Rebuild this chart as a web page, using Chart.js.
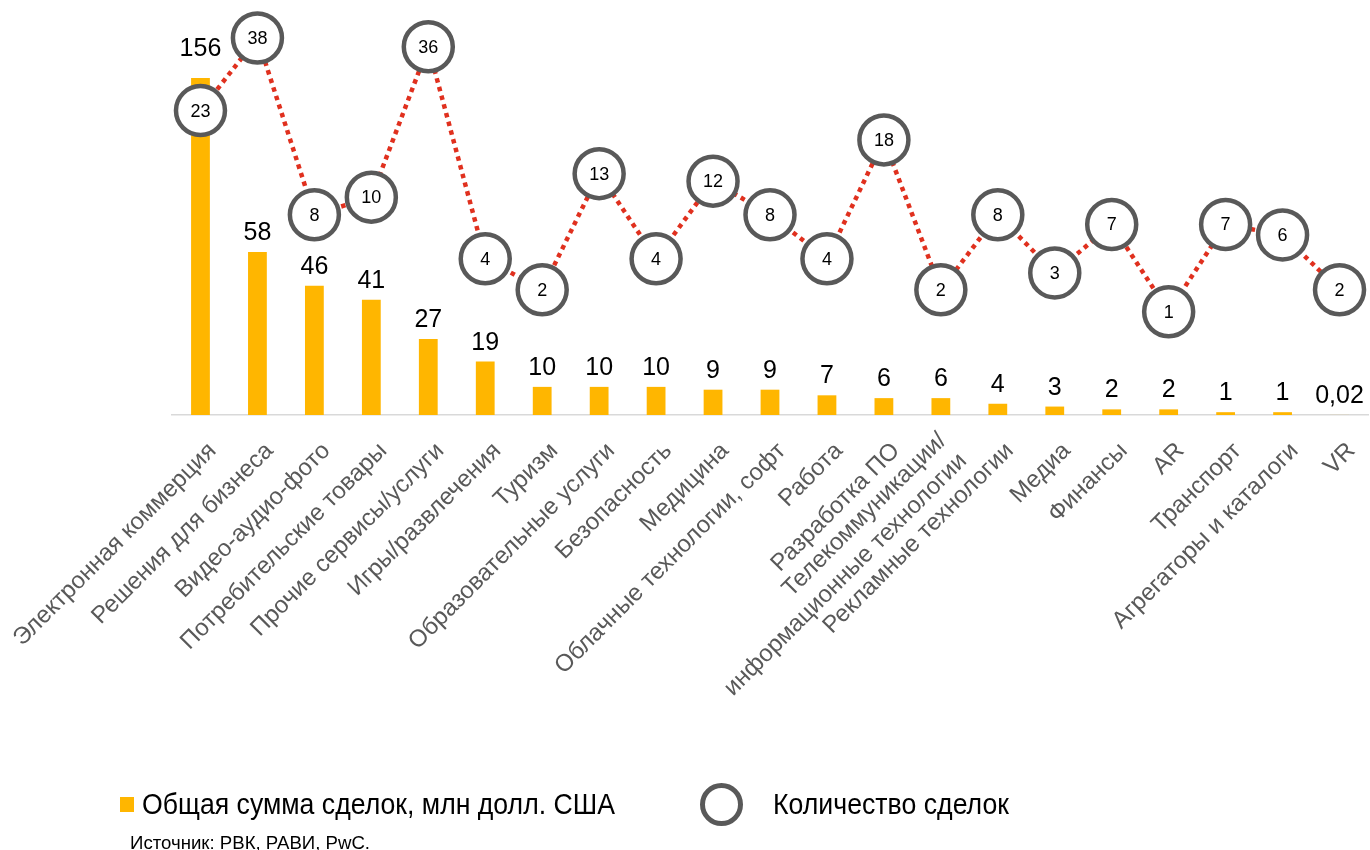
<!DOCTYPE html>
<html lang="ru">
<head>
<meta charset="utf-8">
<title>Сделки по отраслям</title>
<script src="https://cdn.jsdelivr.net/npm/chart.js@4.4.1/dist/chart.umd.min.js"></script>
<style>
  html, body { margin: 0; padding: 0; background: #fff; }
  #wrap { position: relative; width: 1370px; height: 850px; overflow: hidden; }
  #chart { position: absolute; left: 0; top: 0; }
  .lg { position: absolute; white-space: nowrap; font-family: "Liberation Sans", Arial, sans-serif;
        color: #000; transform-origin: 0 50%; line-height: 1; }
  #sq { position: absolute; left: 120px; top: 797px; width: 14px; height: 15px; background: #FFB600; }
  #ring { position: absolute; left: 700px; top: 783px; width: 43px; height: 43px; box-sizing: border-box;
          border: 5.5px solid #595959; border-radius: 50%; }
</style>
</head>
<body>
<div id="wrap">
  <canvas id="chart" width="1370" height="850"></canvas>
  <div id="sq"></div>
  <span class="lg" id="t1" style="left:142px; top:790px; font-size:29px;">Общая сумма сделок, млн долл. США</span>
  <div id="ring"></div>
  <span class="lg" id="t2" style="left:773px; top:790px; font-size:29px;">Количество сделок</span>
  <span class="lg" id="src" style="left:130px; top:834px; font-size:18px;">Источник: РВК, РАВИ, PwC.</span>
</div>
<script>
// Отрасли
const categories = [
  'Электронная коммерция',
  'Решения для бизнеса',
  'Видео-аудио-фото',
  'Потребительские товары',
  'Прочие сервисы/услуги',
  'Игры/развлечения',
  'Туризм',
  'Образовательные услуги',
  'Безопасность',
  'Медицина',
  'Облачные технологии, софт',
  'Работа',
  'Разработка ПО',
  ['Телекоммуникации/', 'информационные технологии'],
  'Рекламные технологии',
  'Медиа',
  'Финансы',
  'AR',
  'Транспорт',
  'Агрегаторы и каталоги',
  'VR'
];

// Общая сумма сделок, млн долл. США
const dealAmount = [156, 58, 46, 41, 27, 19, 10, 10, 10, 9, 9, 7, 6, 6, 4, 3, 2, 2, 1, 1, 0.02];

// Количество сделок
const dealCount = [23, 38, 8, 10, 36, 4, 2, 13, 4, 12, 8, 4, 18, 2, 8, 3, 7, 1, 7, 6, 2];

// Amount axis is broken at this value: taller bars are cut off there
const amountBreak = 120;

const ORANGE = '#FFB600';
const RED = '#E0301E';
const GREY = '#595959';
const FONT = 'Arial, "Liberation Sans", sans-serif';
const TICK_SIZE = 24;

// Square-root value axis for the deal count line
class RootScale extends Chart.LinearScale {
  static id = 'root';
  static defaults = Chart.LinearScale.defaults;
  _f(v) { return Math.sign(v) * Math.sqrt(Math.abs(v)); }
  getPixelForValue(value) {
    const a = this._f(this.min), b = this._f(this.max);
    return this.getPixelForDecimal((this._f(value) - a) / (b - a));
  }
  getValueForPixel(pixel) {
    const a = this._f(this.min), b = this._f(this.max);
    const t = a + this.getDecimalForPixel(pixel) * (b - a);
    return Math.sign(t) * t * t;
  }
}
Chart.register(RootScale);

// Centre multi-line rotated category labels on their tick
const centerMultiline = {
  id: 'centerMultiline',
  beforeDraw(chart) {
    const x = chart.scales.x;
    const items = x.getLabelItems();
    items.forEach(item => {
      if (item._centered || !Array.isArray(item.label) || item.label.length < 2) return;
      const lh = item.font && item.font.lineHeight ? item.font.lineHeight : TICK_SIZE * 1.2;
      item.textOffset -= (item.label.length - 1) * lh / 2;
      item._centered = true;
    });
  }
};

// Value labels above the bars and inside the circles
const valueLabels = {
  id: 'valueLabels',
  afterDatasetsDraw(chart) {
    const ctx = chart.ctx;
    const breakY = chart.scales.yAmount.getPixelForValue(amountBreak);
    ctx.save();
    ctx.fillStyle = '#000';
    ctx.textAlign = 'center';

    const bars = chart.getDatasetMeta(0);
    ctx.font = '25px ' + FONT;
    ctx.textBaseline = 'alphabetic';
    bars.data.forEach((bar, i) => {
      const top = Math.max(bar.y, breakY - 10);
      ctx.fillText(dealAmount[i].toLocaleString('ru-RU'), bar.x, top - 12);
    });

    const pts = chart.getDatasetMeta(1);
    ctx.font = '18px ' + FONT;
    ctx.textBaseline = 'middle';
    pts.data.forEach((p, i) => {
      ctx.fillText(String(dealCount[i]), p.x, p.y + 1);
    });
    ctx.restore();
  }
};

new Chart(document.getElementById('chart'), {
  data: {
    labels: categories,
    datasets: [
      {
        type: 'bar',
        label: 'Общая сумма сделок, млн долл. США',
        data: dealAmount,
        backgroundColor: ORANGE,
        borderWidth: 0,
        barPercentage: 0.33,
        categoryPercentage: 1,
        yAxisID: 'yAmount',
        clip: { left: 0, top: -68, right: 0, bottom: 0 },
        order: 1
      },
      {
        type: 'line',
        label: 'Количество сделок',
        data: dealCount,
        borderColor: RED,
        borderWidth: 4.5,
        borderDash: [4.5, 4.5],
        tension: 0,
        fill: false,
        pointRadius: 24.5,
        pointHoverRadius: 24.5,
        pointBorderWidth: 4.5,
        pointBorderColor: GREY,
        pointBackgroundColor: '#fff',
        clip: false,
        yAxisID: 'yCount',
        order: 0
      }
    ]
  },
  options: {
    responsive: false,
    animation: false,
    devicePixelRatio: 1,
    layout: { autoPadding: false, padding: { top: 10, left: 172, right: 2, bottom: 0 } },
    plugins: {
      legend: { display: false },
      tooltip: { enabled: false },
      title: { display: false }
    },
    scales: {
      x: {
        type: 'category',
        offset: true,
        grid: { display: false, drawTicks: false },
        border: { display: true, color: '#D9D9D9', width: 1.5 },
        ticks: {
          autoSkip: false,
          minRotation: 45,
          maxRotation: 45,
          padding: 22,
          labelOffset: 12,
          color: GREY,
          font: { family: FONT, size: TICK_SIZE }
        },
        afterFit(scale) {
          scale.height = 435;
          scale.paddingLeft = 0;
          scale.paddingRight = 0;
        }
      },
      yAmount: {
        type: 'linear',
        position: 'left',
        display: false,
        min: 0,
        max: 144
      },
      yCount: {
        type: 'root',
        position: 'right',
        display: false,
        min: -0.9,
        max: 44.8
      }
    }
  },
  plugins: [centerMultiline, valueLabels]
});

// Legend captions: condensed to their set widths
function fitWidth(id, width) {
  const el = document.getElementById(id);
  el.style.display = 'inline-block';
  const w = el.getBoundingClientRect().width;
  el.style.transform = 'scaleX(' + (width / w) + ')';
}
fitWidth('t1', 473);
fitWidth('t2', 236);
fitWidth('src', 240);
</script>
</body>
</html>
